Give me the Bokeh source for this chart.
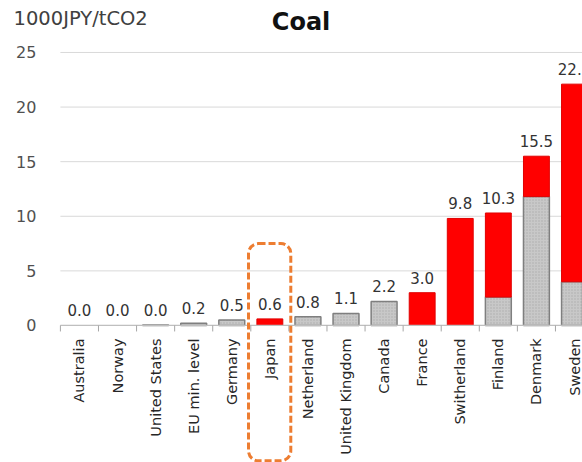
from math import pi

from bokeh.core.properties import value
from bokeh.embed import file_html
from bokeh.models import BoxAnnotation, ColumnDataSource, Range1d
from bokeh.plotting import figure
from bokeh.resources import INLINE

# Carbon price on coal, 1000 JPY per tonne of CO2
countries = ["Australia", "Norway", "United States", "EU min. level", "Germany",
             "Japan", "Netherland", "United Kingdom", "Canada", "France",
             "Switherland", "Finland", "Denmark", "Sweden"]
totals = [0.0, 0.0, 0.04, 0.2, 0.5, 0.6, 0.8, 1.1, 2.2, 3.0, 9.8, 10.3, 15.5, 22.1]
# lower (grey, hatched) part of each bar; the rest is shown in red
grey_part = [0.0, 0.0, 0.04, 0.2, 0.5, 0.0, 0.8, 1.1, 2.2, 0.0, 0.0, 2.6, 11.8, 4.0]
y_ticks = [0, 5, 10, 15, 20, 25]
highlight = "Japan"

FONT = "DejaVu Sans"
xs = list(range(len(countries)))
red_part = [round(t - g, 2) for t, g in zip(totals, grey_part)]

grey_src = ColumnDataSource(dict(
    x=[x for x, g in zip(xs, grey_part) if g > 0],
    top=[g for g in grey_part if g > 0],
))
red_src = ColumnDataSource(dict(
    x=[x for x, r in zip(xs, red_part) if r > 0],
    bottom=[g for g, r in zip(grey_part, red_part) if r > 0],
    top=[t for t, r in zip(totals, red_part) if r > 0],
))
label_src = ColumnDataSource(dict(x=xs, y=totals, text=[f"{t:.1f}" for t in totals]))

# the plot area spans the whole canvas; axes, title and unit are drawn as glyphs
p = figure(width=582, height=462, output_backend="svg", toolbar_location=None,
           x_range=Range1d(-2.073, 13.21), y_range=Range1d(-12.55, 29.76),
           x_axis_type=None, y_axis_type=None,
           min_border_left=0, min_border_right=0, min_border_top=0,
           min_border_bottom=0)
p.outline_line_color = None
p.grid.visible = False
p.background_fill_color = "white"

x_lo, x_hi = xs[0] - 0.5, xs[-1] + 0.5

# horizontal grid lines and y tick labels
p.segment(x0=x_lo, x1=x_hi, y0=y_ticks, y1=y_ticks, line_color="#d9d9d9",
          line_width=1)
p.text(x=x_lo, y=y_ticks, text=[str(t) for t in y_ticks], x_offset=-24,
       text_align="right", text_baseline="middle", text_font=value(FONT),
       text_font_size="16px", text_color="#505050")

# bars
p.vbar(x="x", top="top", bottom=0, width=0.68, source=grey_src,
       fill_color="#c8c8c8", line_color="#7f7f7f", line_width=1.5,
       hatch_pattern=".", hatch_color="#9a9a9a", hatch_scale=3, hatch_alpha=0.6)
p.vbar(x="x", top="top", bottom="bottom", width=0.68, source=red_src,
       fill_color="#ff0000", line_color="#e00000", line_width=1)

# value labels
p.text(x="x", y="y", text="text", source=label_src, text_align="center",
       text_baseline="bottom", y_offset=-9, text_font=value(FONT),
       text_font_size="15px", text_color="#333333")

# category axis: base line, separators between categories, rotated names
p.segment(x0=x_lo, x1=x_hi, y0=0, y1=0, line_color="#bfbfbf", line_width=1.2)
seps = [x - 0.5 for x in xs] + [x_hi]
p.segment(x0=seps, x1=seps, y0=[0] * len(seps), y1=[-0.55] * len(seps),
          line_color="#a6a6a6", line_width=1)
p.text(x=xs, y=[0] * len(xs), text=countries, angle=pi / 2, y_offset=13,
       text_align="right", text_baseline="middle", text_font=value(FONT),
       text_font_size="14.5px", text_color="#262626")

# dashed frame around the highlighted country
hx = countries.index(highlight)
p.add_layout(BoxAnnotation(left=hx - 0.56, right=hx + 0.55, bottom=-12.4, top=7.5,
                           fill_color=None, line_color="#ed7d31", line_alpha=1,
                           line_width=3, line_dash="7 3", border_radius=10,
                           level="overlay"))

# title and unit
p.text(x=[5.82], y=[27.8], text=["Coal"], text_font=value(FONT),
       text_font_style="bold", text_font_size="24px", text_align="center",
       text_baseline="middle", text_color="#111111")
p.text(x=[-1.73], y=[28.15], text=["1000JPY/tCO2"], text_font=value(FONT),
       text_font_size="19.5px", text_align="left", text_baseline="middle",
       text_color="#404040")

open("out.html", "w").write(file_html(p, INLINE))
